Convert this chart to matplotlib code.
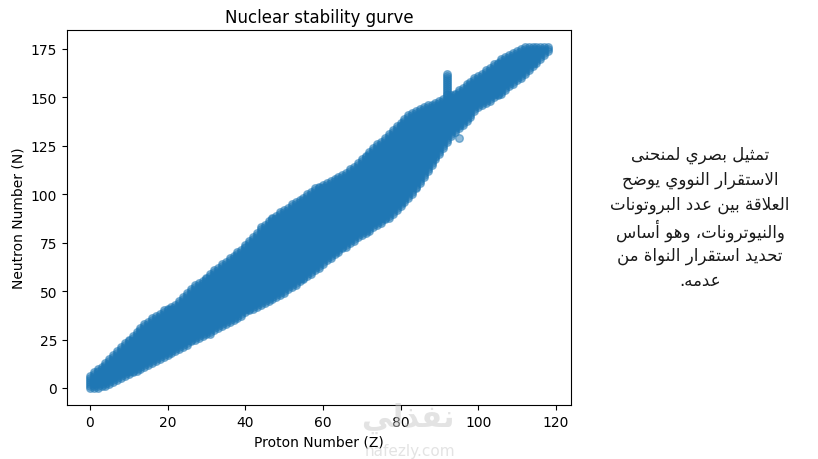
import numpy as np
import matplotlib.pyplot as plt

# proton number Z and the lowest / highest neutron number N seen for it
proton_z = list(range(119))
n_min = [0, 0, 0, 1, 1, 2, 3, 4, 5, 6, 7, 8, 9, 10, 11, 12, 13, 14, 15, 16,
         17, 18, 19, 20, 21, 22, 24, 25, 26, 27, 28, 28, 30, 31, 32, 33, 34, 35, 36, 37,
         39, 40, 41, 42, 43, 44, 45, 46, 47, 48, 49, 51, 52, 53, 55, 56, 58, 59, 61, 62,
         64, 66, 67, 69, 70, 72, 73, 75, 76, 78, 79, 80, 81, 83, 84, 85, 87, 88, 90, 92,
         94, 96, 98, 100, 103, 106, 109, 112, 115, 118, 121, 124, 127, 130, 132, 134, 136, 138, 140, 143,
         145, 146, 147, 148, 150, 151, 152, 154, 156, 157, 159, 160, 162, 164, 166, 168, 170, 172, 174]
n_max = [6, 8, 10, 11, 13, 15, 17, 19, 21, 23, 25, 27, 29, 31, 33, 34, 36, 37, 38, 40,
         41, 42, 43, 45, 47, 49, 51, 53, 54, 55, 57, 59, 61, 62, 64, 65, 67, 68, 70, 71,
         74, 76, 78, 80, 83, 84, 86, 88, 89, 91, 92, 93, 95, 96, 97, 98, 100, 101, 103, 104,
         105, 106, 107, 108, 109, 110, 111, 113, 114, 116, 118, 120, 122, 124, 126, 127, 129, 131, 133, 135,
         137, 139, 141, 142, 143, 144, 145, 146, 146, 147, 148, 149, 162, 151, 152, 154, 155, 157, 158, 160,
         161, 162, 164, 165, 167, 168, 170, 171, 172, 173, 174, 175, 176, 176, 176, 176, 176, 176, 176]
# lone point below the band
extra_z = [95]
extra_n = [129]

arabic_lines = ["تمثيل بصري لمنحنى",
                "الاستقرار النووي يوضح",
                "العلاقة بين عدد البروتونات",
                "والنيوترونات، وهو أساس",
                "تحديد استقرار النواة من",
                "عدمه."]

# presentation forms: isolated, final, initial, medial
FORMS = {
    'ا': (0xFE8D, 0xFE8E, None, None), 'أ': (0xFE83, 0xFE84, None, None),
    'ب': (0xFE8F, 0xFE90, 0xFE91, 0xFE92), 'ة': (0xFE93, 0xFE94, None, None),
    'ت': (0xFE95, 0xFE96, 0xFE97, 0xFE98), 'ث': (0xFE99, 0xFE9A, 0xFE9B, 0xFE9C),
    'ح': (0xFEA1, 0xFEA2, 0xFEA3, 0xFEA4), 'د': (0xFEA9, 0xFEAA, None, None),
    'ذ': (0xFEAB, 0xFEAC, None, None), 'ر': (0xFEAD, 0xFEAE, None, None),
    'س': (0xFEB1, 0xFEB2, 0xFEB3, 0xFEB4), 'ص': (0xFEB9, 0xFEBA, 0xFEBB, 0xFEBC),
    'ض': (0xFEBD, 0xFEBE, 0xFEBF, 0xFEC0), 'ع': (0xFEC9, 0xFECA, 0xFECB, 0xFECC),
    'ف': (0xFED1, 0xFED2, 0xFED3, 0xFED4), 'ق': (0xFED5, 0xFED6, 0xFED7, 0xFED8),
    'ل': (0xFEDD, 0xFEDE, 0xFEDF, 0xFEE0), 'م': (0xFEE1, 0xFEE2, 0xFEE3, 0xFEE4),
    'ن': (0xFEE5, 0xFEE6, 0xFEE7, 0xFEE8), 'ه': (0xFEE9, 0xFEEA, 0xFEEB, 0xFEEC),
    'و': (0xFEED, 0xFEEE, None, None), 'ى': (0xFEEF, 0xFEF0, None, None),
    'ي': (0xFEF1, 0xFEF2, 0xFEF3, 0xFEF4),
}
LAMALEF = {'ا': (0xFEFB, 0xFEFC), 'أ': (0xFEF7, 0xFEF8)}


def shape(line):
    res = []
    i = 0
    while i < len(line):
        c = line[i]
        if c not in FORMS:
            res.append(c)
            i += 1
            continue
        prev = line[i-1] if i > 0 else ''
        join_prev = prev in FORMS and FORMS[prev][2] is not None
        if c == 'ل' and i+1 < len(line) and line[i+1] in LAMALEF:
            iso, fin = LAMALEF[line[i+1]]
            res.append(chr(fin if join_prev else iso))
            i += 2
            continue
        nxt = line[i+1] if i+1 < len(line) else ''
        iso, fin, ini, med = FORMS[c]
        join_next = ini is not None and nxt in FORMS
        if join_prev and join_next:
            code = med
        elif join_prev:
            code = fin
        elif join_next:
            code = ini
        else:
            code = iso
        res.append(chr(code))
        i += 1
    return ''.join(reversed(res))


Z, N = [], []
for z, lo, hi in zip(proton_z, n_min, n_max):
    for n in range(lo, hi + 1):
        Z.append(z)
        N.append(n)
Z += extra_z
N += extra_n

fig = plt.figure(figsize=(8.18, 4.6), dpi=100)
ax = fig.add_axes([67/818, 1-406/460, 504/818, 375/460])
ax.scatter(Z, N, s=30, alpha=0.5, color='#1f77b4')
ax.set_title('Nuclear stability gurve')
ax.set_xlabel('Proton Number (Z)')
ax.set_ylabel('Neutron Number (N)')
ax.set_xticks([0, 20, 40, 60, 80, 100, 120])
ax.set_yticks([0, 25, 50, 75, 100, 125, 150, 175])

for k, line in enumerate(arabic_lines):
    fig.text(700/818, 1-(155+25.2*k)/460, shape(line), ha='center', va='center',
             fontsize=12, family=['DejaVu Sans'], color='#1a1a1a')

# faint site watermark
fig.text(408/818, 1-418/460, shape('نفذلي'), ha='center', va='center', fontsize=22,
         fontweight='bold', color='#c8c8c8', alpha=0.5, family=['DejaVu Sans'])
fig.text(410/818, 1-452/460, 'nafezly.com', ha='center', va='center', fontsize=11,
         color='#c8c8c8', alpha=0.5)

fig.savefig('out.png', dpi=100)
